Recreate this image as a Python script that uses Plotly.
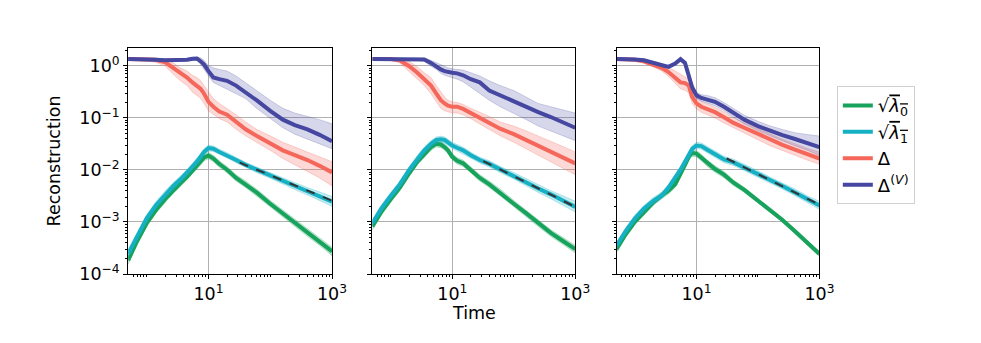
import plotly.graph_objects as go

# common time grid
t = [0.5, 0.7, 1, 1.4, 2, 2.7, 3.5, 4.5, 5.5, 6.5, 7.5, 8.5, 10, 12, 15, 20, 28, 40, 60, 100,
     160, 250, 400, 630, 1000]

# ---- panel 1 ----
green_p1 = [1.83e-4, 4.31e-4, 9.48e-4, 1.68e-3, 2.77e-3, 4.14e-3, 5.52e-3, 7.35e-3, 9.79e-3, 0.0120, 0.0144, 0.0174, 0.0189,
            0.0166, 0.0130, 0.0101, 0.00704, 0.00528, 0.00370, 0.00224, 0.00146, 9.48e-4, 6.17e-4, 4.19e-4, 2.72e-4]
green_p1_hi = [2.15e-4, 5.0e-4, 1.1e-3, 1.95e-3, 3.2e-3, 4.8e-3, 6.4e-3, 8.5e-3, 0.0113, 0.0138, 0.0166, 0.0200, 0.0217,
               0.0191, 0.0150, 0.0116, 0.0081, 0.0061, 0.0043, 0.0026, 0.0017, 1.1e-3, 7.2e-4, 4.9e-4, 3.25e-4]
green_p1_lo = [1.55e-4, 3.7e-4, 8.2e-4, 1.45e-3, 2.4e-3, 3.6e-3, 4.8e-3, 6.4e-3, 8.5e-3, 0.0104, 0.0125, 0.0151, 0.0164,
               0.0144, 0.0113, 0.0088, 0.0061, 0.0046, 0.0032, 0.00195, 0.00127, 8.2e-4, 5.3e-4, 3.55e-4, 2.25e-4]
cyan_p1 = [2.43e-4, 5.35e-4, 1.18e-3, 2.08e-3, 3.44e-3, 4.92e-3, 6.55e-3, 8.73e-3, 0.0116, 0.0144, 0.0179, 0.0222, 0.0263,
           0.0255, 0.0222, 0.0192, 0.0155, 0.0125, 0.0101, 0.0078, 0.0062, 0.0049, 0.0039, 0.0031, 0.00245]
cyan_p1_hi = [2.9e-4, 6.3e-4, 1.38e-3, 2.43e-3, 4.0e-3, 5.7e-3, 7.6e-3, 0.0101, 0.0134, 0.0166, 0.0206, 0.0255, 0.0300,
              0.0290, 0.0250, 0.0215, 0.0174, 0.0140, 0.0114, 0.0088, 0.0071, 0.0057, 0.0046, 0.0038, 0.0031]
cyan_p1_lo = [2.0e-4, 4.6e-4, 1.01e-3, 1.78e-3, 2.95e-3, 4.2e-3, 5.6e-3, 7.5e-3, 0.0100, 0.0124, 0.0155, 0.0193, 0.0232,
              0.0226, 0.0197, 0.0171, 0.0138, 0.0111, 0.0089, 0.0069, 0.0054, 0.0042, 0.0033, 0.0026, 0.0020]
red_p1 = [1.35, 1.35, 1.35, 1.31, 1.17, 0.918, 0.740, 0.597, 0.482, 0.418, 0.361, 0.292, 0.204, 0.164, 0.133, 0.115,
          0.0839, 0.0604, 0.0453, 0.0317, 0.0238, 0.0192, 0.0155, 0.0120, 0.00898]
red_p1_hi = [1.42, 1.42, 1.42, 1.40, 1.31, 1.14, 0.918, 0.795, 0.66, 0.597, 0.517, 0.418, 0.313, 0.235, 0.19, 0.153,
             0.115, 0.0839, 0.0604, 0.0453, 0.034, 0.0275, 0.0222, 0.0179, 0.0144]
red_p1_lo = [1.28, 1.28, 1.28, 1.17, 0.986, 0.689, 0.517, 0.418, 0.313, 0.271, 0.235, 0.19, 0.137, 0.115, 0.0968, 0.0839,
             0.0604, 0.0453, 0.034, 0.0238, 0.0166, 0.0125, 0.00937, 0.00704, 0.00492]
blue_p1 = [1.35, 1.35, 1.33, 1.31, 1.28, 1.28, 1.29, 1.31, 1.37, 1.39, 1.22, 1.06, 0.795, 0.597, 0.556, 0.517, 0.418,
           0.313, 0.219, 0.137, 0.0927, 0.0727, 0.0604, 0.0473, 0.0355]
blue_p1_hi = [1.42, 1.42, 1.41, 1.40, 1.37, 1.37, 1.38, 1.39, 1.44, 1.47, 1.43, 1.28, 1.01, 0.918, 0.855, 0.795, 0.641,
              0.482, 0.337, 0.219, 0.153, 0.124, 0.107, 0.0927, 0.0769]
blue_p1_lo = [1.28, 1.28, 1.27, 1.25, 1.22, 1.22, 1.23, 1.24, 1.28, 1.28, 1.06, 0.855, 0.641, 0.482, 0.418, 0.361, 0.291,
              0.235, 0.153, 0.0996, 0.0648, 0.0487, 0.0393, 0.0317, 0.0256]
fit_t_p1 = [32, 1000]
fit_p1 = [0.0138, 0.00257]

# ---- panel 2 ----
green_p2 = [8.21e-4, 1.56e-3, 2.77e-3, 4.58e-3, 8.73e-3, 0.0144, 0.0200, 0.0275, 0.0317, 0.0308, 0.0275, 0.0238, 0.0179,
            0.0150, 0.0134, 0.0101, 0.00704, 0.00528, 0.00370, 0.00224, 0.00146, 9.48e-4, 6.17e-4, 4.31e-4, 3.01e-4]
green_p2_hi = [9.6e-4, 1.8e-3, 3.2e-3, 5.3e-3, 0.0100, 0.0166, 0.0230, 0.0316, 0.0365, 0.0354, 0.0316, 0.0274, 0.0206,
               0.0173, 0.0154, 0.0116, 0.0081, 0.0061, 0.0043, 0.0026, 0.0017, 1.1e-3, 7.1e-4, 5.0e-4, 3.55e-4]
green_p2_lo = [7.0e-4, 1.35e-3, 2.4e-3, 3.95e-3, 7.6e-3, 0.0125, 0.0174, 0.0239, 0.0276, 0.0268, 0.0239, 0.0207, 0.0156,
               0.0130, 0.0117, 0.0088, 0.0061, 0.0046, 0.0032, 0.00195, 0.00127, 8.2e-4, 5.3e-4, 3.7e-4, 2.55e-4]
cyan_p2 = [9.48e-4, 1.81e-3, 3.20e-3, 5.28e-3, 0.0101, 0.0166, 0.0238, 0.0317, 0.0376, 0.0387, 0.0376, 0.0340, 0.0295,
           0.0267, 0.0238, 0.0192, 0.0155, 0.0131, 0.0102, 0.0077, 0.0058, 0.0044, 0.0034, 0.0026, 0.00195]
cyan_p2_hi = [1.1e-3, 2.1e-3, 3.7e-3, 6.1e-3, 0.0116, 0.0191, 0.0274, 0.0365, 0.0432, 0.0445, 0.0432, 0.0391, 0.0339,
              0.0307, 0.0274, 0.0219, 0.0176, 0.0151, 0.0117, 0.0089, 0.0067, 0.0052, 0.0040, 0.0032, 0.0025]
cyan_p2_lo = [8.2e-4, 1.57e-3, 2.78e-3, 4.6e-3, 8.8e-3, 0.0144, 0.0207, 0.0276, 0.0327, 0.0337, 0.0327, 0.0296, 0.0257,
              0.0232, 0.0207, 0.0168, 0.0136, 0.0114, 0.0089, 0.0067, 0.0050, 0.0037, 0.0028, 0.0021, 0.00155]
red_p2 = [1.35, 1.35, 1.35, 1.28, 0.986, 0.740, 0.556, 0.418, 0.292, 0.219, 0.190, 0.172, 0.164, 0.164, 0.149, 0.124,
          0.0996, 0.0804, 0.0621, 0.0487, 0.0376, 0.0295, 0.0222, 0.0174, 0.0134]
red_p2_hi = [1.42, 1.42, 1.42, 1.39, 1.22, 0.958, 0.74, 0.597, 0.418, 0.313, 0.253, 0.219, 0.204, 0.198, 0.182, 0.153,
             0.129, 0.107, 0.0839, 0.0697, 0.0562, 0.0453, 0.0355, 0.0282, 0.0222]
red_p2_lo = [1.28, 1.28, 1.28, 1.14, 0.795, 0.556, 0.418, 0.292, 0.204, 0.153, 0.137, 0.129, 0.124, 0.124, 0.115, 0.0968,
             0.0769, 0.0604, 0.0453, 0.034, 0.0256, 0.0192, 0.0144, 0.0108, 0.00812]
blue_p2 = [1.35, 1.35, 1.35, 1.35, 1.35, 1.35, 1.33, 1.14, 0.958, 0.855, 0.795, 0.762, 0.740, 0.719, 0.660, 0.556, 0.482,
           0.337, 0.271, 0.210, 0.164, 0.129, 0.104, 0.0839, 0.0648]
blue_p2_hi = [1.42, 1.42, 1.42, 1.42, 1.42, 1.42, 1.41, 1.28, 1.14, 1.06, 0.986, 0.918, 0.879, 0.855, 0.83, 0.74, 0.641,
              0.517, 0.418, 0.337, 0.253, 0.19, 0.164, 0.143, 0.124]
blue_p2_lo = [1.28, 1.28, 1.28, 1.28, 1.28, 1.28, 1.22, 0.986, 0.855, 0.719, 0.66, 0.623, 0.597, 0.556, 0.496, 0.388,
              0.292, 0.219, 0.164, 0.124, 0.0927, 0.0697, 0.0562, 0.0453, 0.0366]
fit_t_p2 = [32, 1000]
fit_p2 = [0.0148, 0.00195]

# ---- panel 3 ----
green_p3 = [3.01e-4, 5.74e-4, 1.02e-3, 1.56e-3, 2.41e-3, 3.20e-3, 3.97e-3, 5.28e-3, 8.12e-3, 0.0125, 0.0179, 0.0212,
            0.0206, 0.0174, 0.0134, 0.0104, 8.12e-3, 5.68e-3, 4.14e-3, 2.58e-3, 1.68e-3, 1.09e-3, 6.62e-4, 4.01e-4, 2.43e-4]
green_p3_hi = [3.5e-4, 6.6e-4, 1.17e-3, 1.79e-3, 2.77e-3, 3.7e-3, 4.6e-3, 6.1e-3, 9.3e-3, 0.0144, 0.0206, 0.0244, 0.0237,
               0.0200, 0.0154, 0.0120, 9.3e-3, 6.4e-3, 4.6e-3, 2.85e-3, 1.85e-3, 1.2e-3, 7.3e-4, 4.4e-4, 2.7e-4]
green_p3_lo = [2.6e-4, 5.0e-4, 8.9e-4, 1.36e-3, 2.1e-3, 2.8e-3, 3.45e-3, 4.6e-3, 7.1e-3, 0.0109, 0.0156, 0.0184, 0.0179,
               0.0151, 0.0117, 9.0e-3, 7.1e-3, 5.0e-3, 3.7e-3, 2.35e-3, 1.53e-3, 9.9e-4, 6.0e-4, 3.65e-4, 2.2e-4]
cyan_p3 = [3.48e-4, 6.62e-4, 1.18e-3, 1.81e-3, 2.58e-3, 3.20e-3, 4.58e-3, 7.04e-3, 0.0101, 0.0144, 0.0200, 0.0255, 0.0295,
           0.0287, 0.0245, 0.0200, 0.0159, 0.0140, 0.0112, 0.0084, 0.0063, 0.00492, 0.00370, 0.00277, 0.00208]
cyan_p3_hi = [4.0e-4, 7.6e-4, 1.36e-3, 2.08e-3, 2.97e-3, 3.7e-3, 5.3e-3, 8.1e-3, 0.0116, 0.0166, 0.0230, 0.0293, 0.0339,
              0.0330, 0.0282, 0.0230, 0.0183, 0.0161, 0.0129, 0.0097, 0.0072, 0.0057, 0.0043, 0.0032, 0.0025]
cyan_p3_lo = [3.0e-4, 5.8e-4, 1.03e-3, 1.57e-3, 2.24e-3, 2.78e-3, 4.0e-3, 6.1e-3, 8.8e-3, 0.0125, 0.0174, 0.0222, 0.0257,
              0.0250, 0.0213, 0.0174, 0.0138, 0.0122, 0.0097, 0.0073, 0.0055, 0.0043, 0.0032, 0.0024, 0.00175]
red_p3 = [1.35, 1.35, 1.31, 1.22, 1.06, 0.918, 0.762, 0.597, 0.482, 0.468, 0.418, 0.253, 0.190, 0.164, 0.149, 0.129,
          0.103, 0.0804, 0.0648, 0.0487, 0.0376, 0.0304, 0.0245, 0.0200, 0.0166]
red_p3_hi = [1.42, 1.42, 1.40, 1.33, 1.20, 1.08, 0.95, 0.80, 0.68, 0.63, 0.56, 0.33, 0.24, 0.205, 0.185, 0.160, 0.128,
             0.100, 0.081, 0.062, 0.048, 0.039, 0.032, 0.026, 0.022]
red_p3_lo = [1.28, 1.28, 1.23, 1.12, 0.95, 0.80, 0.63, 0.47, 0.36, 0.34, 0.30, 0.19, 0.148, 0.128, 0.116, 0.100, 0.080,
             0.063, 0.051, 0.038, 0.029, 0.0235, 0.019, 0.0155, 0.0128]
blue_p3 = [1.35, 1.35, 1.33, 1.28, 1.14, 1.01, 0.958, 1.11, 1.35, 1.14, 0.641, 0.388, 0.271, 0.242, 0.225, 0.204, 0.164,
           0.124, 0.0927, 0.0697, 0.0562, 0.0467, 0.0393, 0.0331, 0.0275]
blue_p3_hi = [1.42, 1.42, 1.40, 1.35, 1.20, 1.06, 1.01, 1.17, 1.42, 1.22, 0.72, 0.44, 0.31, 0.28, 0.27, 0.245, 0.197,
              0.150, 0.113, 0.086, 0.070, 0.060, 0.052, 0.048, 0.045]
blue_p3_lo = [1.28, 1.28, 1.26, 1.21, 1.08, 0.96, 0.91, 1.05, 1.28, 1.06, 0.57, 0.34, 0.235, 0.21, 0.19, 0.17, 0.137,
              0.103, 0.076, 0.057, 0.045, 0.036, 0.029, 0.024, 0.019]
fit_t_p3 = [31, 1000]
fit_p3 = [0.0166, 0.00214]

# series order as drawn: green, cyan, red, blue
names = ["√<span style='text-decoration:overline'><i>λ</i><sub>0</sub></span>",
         "√<span style='text-decoration:overline'><i>λ</i><sub>1</sub></span>",
         "Δ",
         "Δ<sup>(<i>V</i>)</sup>"]
colors = ["#17a35b", "#16b0c4", "#f4675a", "#4547a0"]
fills = ["rgba(23,163,91,0.25)", "rgba(22,176,196,0.25)", "rgba(244,103,90,0.25)", "rgba(69,71,160,0.22)"]

panels = [
    [(green_p1, green_p1_lo, green_p1_hi), (cyan_p1, cyan_p1_lo, cyan_p1_hi),
     (red_p1, red_p1_lo, red_p1_hi), (blue_p1, blue_p1_lo, blue_p1_hi), (fit_t_p1, fit_p1)],
    [(green_p2, green_p2_lo, green_p2_hi), (cyan_p2, cyan_p2_lo, cyan_p2_hi),
     (red_p2, red_p2_lo, red_p2_hi), (blue_p2, blue_p2_lo, blue_p2_hi), (fit_t_p2, fit_p2)],
    [(green_p3, green_p3_lo, green_p3_hi), (cyan_p3, cyan_p3_lo, cyan_p3_hi),
     (red_p3, red_p3_lo, red_p3_hi), (blue_p3, blue_p3_lo, blue_p3_hi), (fit_t_p3, fit_p3)],
]

fig = go.Figure()

for p, series in enumerate(panels):
    xa = "x" if p == 0 else f"x{p + 1}"
    ya = "y" if p == 0 else f"y{p + 1}"
    for k in range(4):
        mean, lo, hi = series[k]
        # shaded band
        fig.add_trace(go.Scatter(
            x=t + t[::-1], y=hi + lo[::-1], fill="toself", fillcolor=fills[k],
            line=dict(color=fills[k], width=1), mode="lines",
            hoverinfo="skip", showlegend=False, xaxis=xa, yaxis=ya))
        fig.add_trace(go.Scatter(
            x=t, y=mean, mode="lines", name=names[k],
            line=dict(color=colors[k], width=4), showlegend=(p == 0),
            xaxis=xa, yaxis=ya))
    fit_t, fit_y = series[4]
    fig.add_trace(go.Scatter(
        x=fit_t, y=fit_y, mode="lines", line=dict(color="#333333", width=2, dash="dash"),
        showlegend=False, xaxis=xa, yaxis=ya))

minor_x = [m * 10 ** e for e in range(-1, 3) for m in range(2, 10)] + [1, 100]
minor_y = [m * 10 ** e for e in range(-4, 1) for m in range(2, 10)]
yticks = [1e-4, 1e-3, 1e-2, 1e-1, 1]
ytext = ["10<sup>−4</sup>", "10<sup>−3</sup>", "10<sup>−2</sup>", "10<sup>−1</sup>", "10<sup>0</sup>"]

domains = [[0.1244, 0.3354], [0.3772, 0.5872], [0.630, 0.840]]
axis_common = dict(
    type="log", showline=True, linecolor="black", linewidth=1, mirror=True,
    showgrid=True, gridcolor="#b0b0b0", gridwidth=1, ticks="outside", ticklen=4,
    tickcolor="black", zeroline=False, tickfont=dict(size=17.5, color="black"),
)
for p in range(3):
    sx = "" if p == 0 else str(p + 1)
    fig.update_layout(**{
        f"xaxis{sx}": dict(axis_common, domain=domains[p], range=[-0.30, 3],
                           anchor=f"y{sx}", tickmode="array", tickvals=[10, 1000],
                           ticktext=["10<sup>1</sup>", "10<sup>3</sup>"],
                           minor=dict(tickmode="array", tickvals=minor_x, ticks="outside",
                                      ticklen=2, tickcolor="black", showgrid=False)),
        f"yaxis{sx}": dict(axis_common, domain=[0.2012, 0.8805], range=[-4, 0.348],
                           anchor=f"x{sx}", tickmode="array", tickvals=yticks, ticktext=ytext,
                           showticklabels=(p == 0),
                           minor=dict(tickmode="array", tickvals=minor_y, ticks="outside",
                                      ticklen=2, tickcolor="black", showgrid=False)),
    })

fig.add_annotation(text="Reconstruction", xref="paper", yref="paper", x=47 / 981, y=0.54,
                   textangle=-90, showarrow=False, font=dict(size=17.5, color="black"),
                   xanchor="center", yanchor="middle")
fig.add_annotation(text="Time", xref="paper", yref="paper", x=473 / 981, y=1 - 314 / 343,
                   showarrow=False, font=dict(size=17.5, color="black"),
                   xanchor="center", yanchor="middle")

fig.update_layout(
    width=981, height=343,
    margin=dict(l=0, r=0, t=0, b=0),
    paper_bgcolor="white", plot_bgcolor="white",
    font=dict(family="DejaVu Sans", color="black"),
    legend=dict(x=0.858, y=0.765, xanchor="left", yanchor="top",
                bgcolor="white", bordercolor="#d0d0d0", borderwidth=1,
                font=dict(size=18)),
)

fig.write_html("out.html")
